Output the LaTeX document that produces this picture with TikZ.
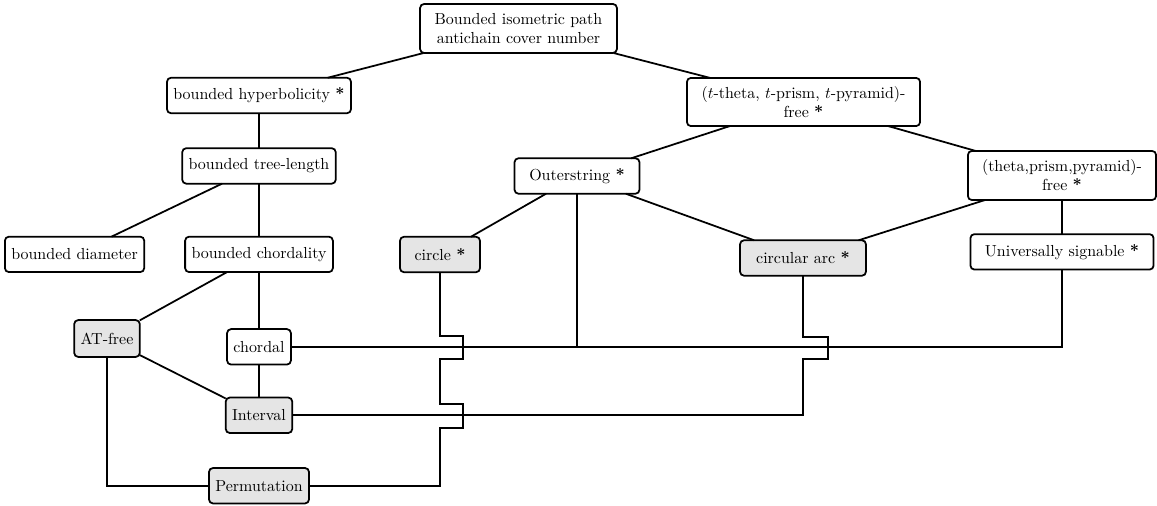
\documentclass[tikz,border=0pt]{standalone}
\usepackage{xcolor}
\usepackage{tikz}
\usetikzlibrary{positioning,calc}

\tikzset{
    cls/.style={draw, rectangle, rounded corners=2.5pt, line width=1.1pt, inner sep=4pt, minimum height=0.78cm, fill=white, align=center},
    hcls/.style={cls, fill=gray!20},
    lnk/.style={line width=1.1pt}
}

\begin{document}
\begin{tikzpicture}[x=0.022cm, y=-0.022cm, node distance=0cm, outer sep=0pt]
    \useasboundingbox (0,0) rectangle (1157,506);

    \node [cls, minimum width=4.33cm, minimum height=1.08cm] (bip) at (518.5,28.5) {Bounded isometric path\\antichain cover number};

    \node [cls, minimum width=4.0cm] (hyp) at (259,95.5) {bounded hyperbolicity \textbf{*}};
    \node [cls, minimum width=3.34cm, below=0.77cm of hyp] (tlen) {bounded tree-length};
    \node [cls, minimum width=3.21cm, below=1.166cm of tlen] (bchord) {bounded chordality};
    \node [cls, minimum width=3.01cm, left=0.9cm of bchord] (diam) {bounded diameter};
    \node [cls, minimum width=1.36cm, below=1.254cm of bchord] (chordal) {chordal};
    \node [hcls, minimum width=1.43cm, below=0.726cm of chordal] (intv) {Interval};
    \node [hcls, minimum width=2.13cm, below=0.77cm of intv] (perm) {Permutation};
    \node [hcls, minimum width=1.39cm, minimum height=0.81cm] (atf) at (107,338.5) {AT-free};

    \node [cls, minimum width=5.13cm, minimum height=1.06cm] (ttheta) at (803.5,102) {($t$-theta, $t$-prism, $t$-pyramid)-\\free \textbf{*}};
    \node [cls, minimum width=2.75cm] (outer) at (577,176) {Outerstring \textbf{*}};
    \node [cls, minimum width=4.14cm, minimum height=1.08cm] (tpp) at (1062,175.5) {(theta,prism,pyramid)-\\free \textbf{*}};
    \node [cls, minimum width=4.03cm, below=0.75cm of tpp] (usig) {Universally signable \textbf{*}};
    \node [hcls, minimum width=1.76cm] (circ) at (440,254.5) {circle \textbf{*}};
    \node [hcls, minimum width=2.77cm] (carc) at (803,258) {circular arc \textbf{*}};

    % tree part
    \draw [lnk] (bip) -- (hyp);
    \draw [lnk] (bip) -- (ttheta);
    \draw [lnk] (hyp) -- (tlen);
    \draw [lnk] (tlen) -- (diam);
    \draw [lnk] (tlen) -- (bchord);
    \draw [lnk] (bchord) -- (atf);
    \draw [lnk] (bchord) -- (chordal);
    \draw [lnk] (atf) -- (intv);
    \draw [lnk] (chordal) -- (intv);
    \draw [lnk] (atf.south) |- (perm.west);
    \draw [lnk] (ttheta) -- (outer);
    \draw [lnk] (ttheta) -- (tpp);
    \draw [lnk] (outer) -- (circ);
    \draw [lnk] (outer) -- (carc);
    \draw [lnk] (tpp) -- (carc);
    \draw [lnk] (tpp) -- (usig);

    % long wires with jumps
    \draw [lnk] (chordal.east) -| (usig.south);
    \draw [lnk] (outer.south) -- (outer.south |- chordal.east);
    \draw [lnk] (carc.south) -- ++(0,61) -- ++(25,0) -- ++(0,22) -- ++(-25,0) |- (intv.east);
    \draw [lnk] (circ.south) -- ++(0,64) -- ++(23,0) -- ++(0,23) -- ++(-23,0) -- ++(0,45) -- ++(23,0) -- ++(0,24) -- ++(-23,0) |- (perm.east);

\end{tikzpicture}
\end{document}
